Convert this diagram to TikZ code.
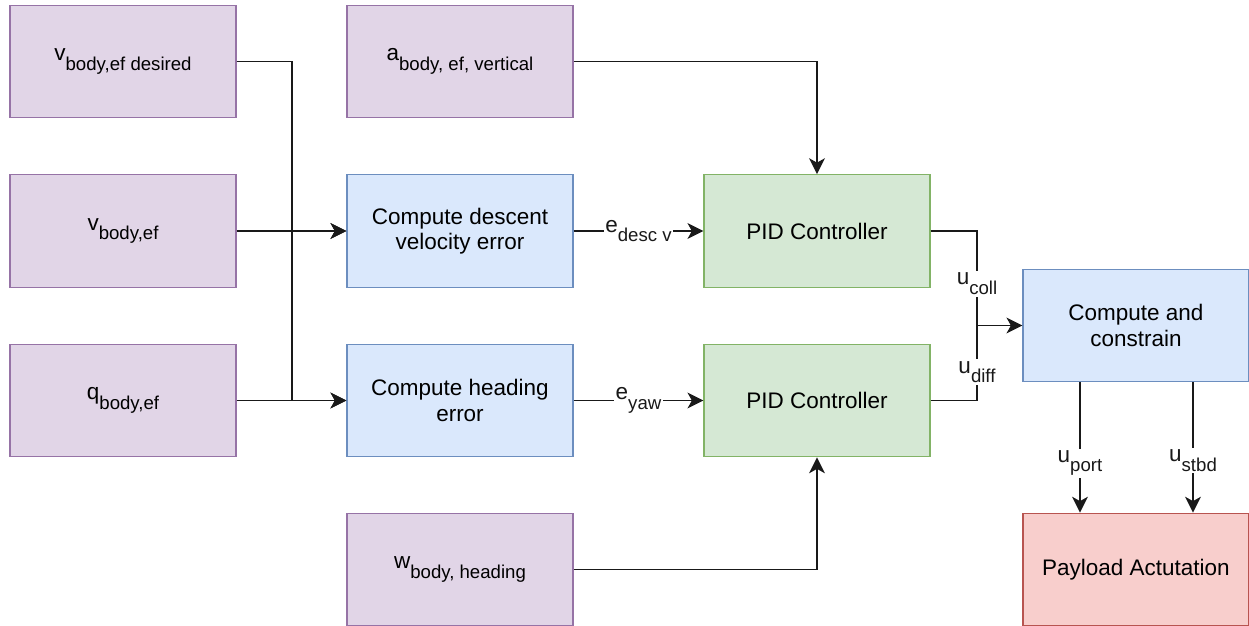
\documentclass[tikz,border=0pt]{standalone}
\usepackage{fontspec}
\setmainfont{Liberation Sans}
\usetikzlibrary{arrows.meta}
\definecolor{sigfill}{HTML}{E1D5E7}
\definecolor{sigline}{HTML}{9673A6}
\definecolor{calcfill}{HTML}{DAE8FC}
\definecolor{calcline}{HTML}{6C8EBF}
\definecolor{ctrlfill}{HTML}{D5E8D4}
\definecolor{ctrlline}{HTML}{82B366}
\definecolor{actfill}{HTML}{F8CECC}
\definecolor{actline}{HTML}{B85450}
% symbol with a lowered, smaller index
\newcommand{\sym}[2]{#1\raisebox{-5.5pt}{\fontsize{10.6}{12}\selectfont #2}}
\tikzset{
	block/.style = {rectangle, align=center, minimum width=4.52cm, minimum height=2.25cm, line width=0.8pt, font=\fontsize{12.8}{14.4}\selectfont},
	signal/.style = {block, fill=sigfill, draw=sigline},
	calc/.style = {block, fill=calcfill, draw=calcline},
	ctrl/.style = {block, fill=ctrlfill, draw=ctrlline},
	act/.style = {block, fill=actfill, draw=actline},
	wire/.style = {line width=1.1pt, black!90},
	flow/.style = {wire, -{Stealth[length=9pt, width=9pt, inset=2.5pt]}},
	tag/.style = {fill=white, inner sep=1pt, font=\fontsize{12.8}{14.4}\selectfont}
}

\begin{document}
\begin{tikzpicture}[x=0.02cm, y=-0.02cm]
	\useasboundingbox (0,0) rectangle (1249,626);
	% inputs
	\node [signal] (vdes) at (123,61.5) {\sym{v}{body,ef desired}};
	\node [signal] (vbody) at (123,231) {\sym{v}{body,ef}};
	\node [signal] (qbody) at (123,400.5) {\sym{q}{body,ef}};
	\node [signal] (abody) at (460,61.5) {\sym{a}{body, ef, vertical}};
	\node [signal] (wbody) at (460,569.5) {\sym{w}{body, heading}};
	% error blocks
	\node [calc] (descerr) at (460,231) {Compute descent\\velocity error};
	\node [calc] (hdgerr) at (460,400.5) {Compute heading\\error};
	% controllers
	\node [ctrl] (pidv) at (817,231) {PID Controller};
	\node [ctrl] (pidh) at (817,400.5) {PID Controller};
	% output side
	\node [calc] (mix) at (1136,325.5) {Compute and\\constrain};
	\node [act] (payload) at (1136,569.5) {Payload Actutation};

	\coordinate (split) at (292,0);
	\coordinate (join) at (977,325.5);

	\draw [flow] (vdes.east) -| (split |- descerr.west) -- (descerr.west);
	\draw [flow] (vdes.east) -| (split |- hdgerr.west) -- (hdgerr.west);
	\draw [flow] (vbody.east) -- (descerr.west);
	\draw [flow] (qbody.east) -- (hdgerr.west);

	\draw [flow] (descerr.east) -- node [tag] {\sym{e}{desc v}} (pidv.west);
	\draw [flow] (hdgerr.east) -- node [tag] {\sym{e}{yaw}} (pidh.west);
	\draw [flow] (abody.east) -| (pidv.north);
	\draw [flow] (wbody.east) -| (pidh.south);

	\draw [wire] (pidv.east) -| node [tag, pos=0.78] {\sym{u}{coll}} (join);
	\draw [wire] (pidh.east) -| node [tag, pos=0.69] {\sym{u}{diff}} (join);
	\draw [flow] (join) -- (mix.west);

	\draw [flow] (mix.south -| 1080,0) -- node [tag, pos=0.62] {\sym{u}{port}} (payload.north -| 1080,0);
	\draw [flow] (mix.south -| 1193,0) -- node [tag, pos=0.6] {\sym{u}{stbd}} (payload.north -| 1193,0);
\end{tikzpicture}
\end{document}
